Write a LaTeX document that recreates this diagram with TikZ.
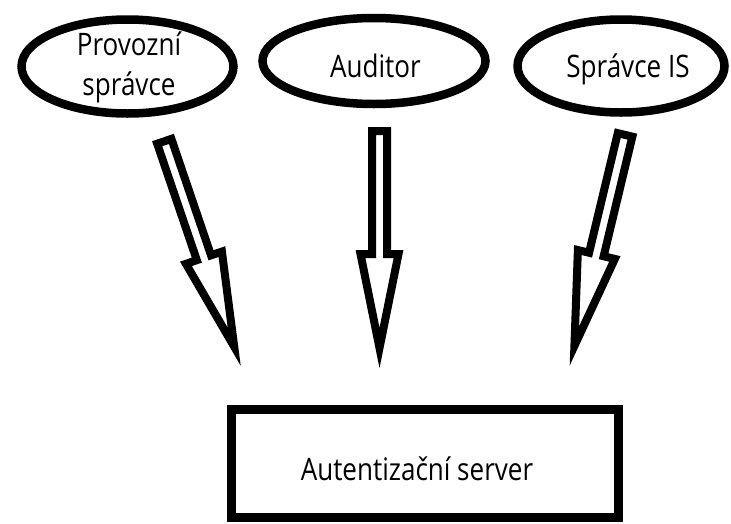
\documentclass[tikz,border=0pt]{standalone}
\usepackage{fontspec}
\setmainfont[FakeStretch=0.84]{Open Sans}
\usetikzlibrary{shapes.geometric}
\tikzset{
  actor/.style={draw=black, line width=8.5pt, ellipse, inner sep=0pt},
  serverbox/.style={draw=black, line width=9pt, rectangle, inner sep=0pt, line join=miter},
  lbl/.style={font=\fontsize{31}{40}\selectfont, inner sep=0pt, align=center, text=black},
  harrow/.pic={
    \draw[line width=8pt, line join=miter, miter limit=12]
      (4,-7.5) -- (127,-7.5) -- (127,-19) -- (221,0) -- (127,19) -- (127,7.5) -- (4,7.5) -- cycle;
  }
}
\begin{document}
\begin{tikzpicture}[x=1pt, y=-1pt]
\useasboundingbox (0,0) rectangle (731,523);
% actors
\node[actor, minimum width=212pt, minimum height=94pt] (prov) at (127.5,66.5) {};
\node[actor, minimum width=223pt, minimum height=86pt] (aud) at (374,61) {};
\node[actor, minimum width=207pt, minimum height=93pt] (spr) at (621,66) {};
\node[lbl] (provt) at (129,67) {Provozní\\správce};
\node[lbl, anchor=base] (audt) at (375.5,77) {Auditor};
\node[lbl, anchor=base] (sprt) at (628,77) {Správce IS};
% server
\node[serverbox, minimum width=387pt, minimum height=108pt] (srv) at (425,463.5) {};
\node[lbl, anchor=base] (srvt) at (417,480) {Autentizační server};
% arrows
\coordinate (a1) at (163,137.5);
\coordinate (a2) at (379.5,127);
\coordinate (a3) at (626,131);
\pic[rotate=-71.2] at (a1) {harrow};
\pic[rotate=-90] at (a2) {harrow};
\pic[rotate=-103.5] at (a3) {harrow};
\end{tikzpicture}
\end{document}
